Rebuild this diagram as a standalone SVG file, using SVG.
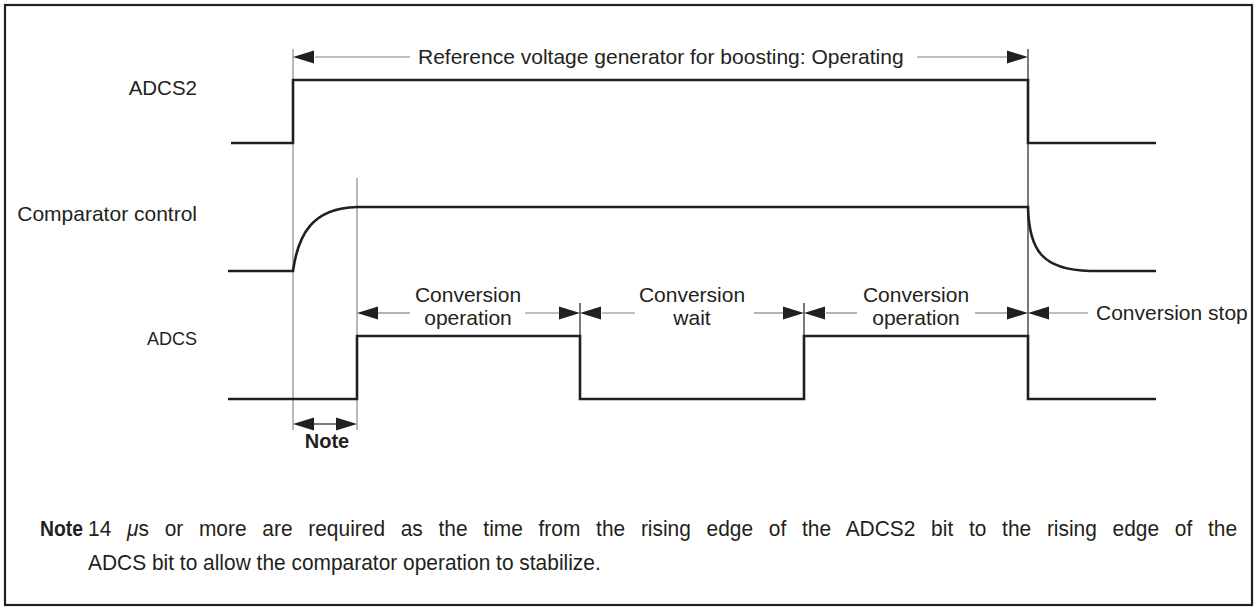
<svg xmlns="http://www.w3.org/2000/svg" width="1256" height="608" viewBox="0 0 1256 608">
<style>
text{font-family:"Liberation Sans",Arial,sans-serif;fill:#231f20}
.sig{fill:none;stroke:#231f20;stroke-width:2.6}
.guide{stroke:#8a8a8a;stroke-width:1.2}
.dim{stroke:#808080;stroke-width:1.2}
.tick{stroke:#231f20;stroke-width:1.2}
.ah{fill:#231f20}
.lbl{font-size:21px}
.mid{text-anchor:middle}
</style>
<defs>
<path id="ar" d="M0,0 L-21,-6.5 L-21,6.5 Z"/>
</defs>
<rect x="5" y="5" width="1247" height="600" fill="#fff" stroke="#231f20" stroke-width="2.2"/>
<g id="labels">
<text x="197" y="95" font-size="20.5" text-anchor="end">ADCS2</text>
<text x="197" y="221" font-size="21" text-anchor="end">Comparator control</text>
<text x="197" y="345" font-size="18" text-anchor="end">ADCS</text>
</g>
<g id="guides">
<line class="guide" x1="293" y1="49" x2="293" y2="430"/>
<line class="guide" x1="357" y1="178" x2="357" y2="430"/>
<line class="tick" x1="1028" y1="49" x2="1028" y2="400"/>
<line class="tick" x1="580" y1="303" x2="580" y2="336"/>
<line class="tick" x1="804" y1="303" x2="804" y2="336"/>
</g>
<g id="signal-ADCS2">
<path class="sig" d="M231,143 H293 V80 H1028 V143 H1156"/>
</g>
<g id="signal-comparator">
<path class="sig" d="M228,271 H293 C298,235 312,208 357,207 H1028 C1029,250 1042,270 1090,271 H1156"/>
</g>
<g id="signal-ADCS">
<path class="sig" d="M228,399 H357 V336 H580 V399 H804 V336 H1028 V399 H1156"/>
</g>
<g id="connectors">
<line class="dim" x1="315" y1="57" x2="410" y2="57"/>
<line class="dim" x1="917" y1="57" x2="1007" y2="57"/>
<use href="#ar" class="ah" transform="translate(293,57) rotate(180)"/>
<use href="#ar" class="ah" transform="translate(1028,57)"/>

<line class="dim" x1="378" y1="313" x2="410" y2="313"/>
<line class="dim" x1="525" y1="313" x2="560" y2="313"/>
<use href="#ar" class="ah" transform="translate(357,313) rotate(180)"/>
<use href="#ar" class="ah" transform="translate(580,313)"/>

<line class="dim" x1="602" y1="313" x2="635" y2="313"/>
<line class="dim" x1="754" y1="313" x2="783" y2="313"/>
<use href="#ar" class="ah" transform="translate(580,313) rotate(180)"/>
<use href="#ar" class="ah" transform="translate(804,313)"/>

<line class="dim" x1="826" y1="313" x2="857" y2="313"/>
<line class="dim" x1="975" y1="313" x2="1007" y2="313"/>
<use href="#ar" class="ah" transform="translate(804,313) rotate(180)"/>
<use href="#ar" class="ah" transform="translate(1028,313)"/>

<line class="dim" x1="1049" y1="313" x2="1088" y2="313"/>
<use href="#ar" class="ah" transform="translate(1028,313) rotate(180)"/>

<line class="tick" x1="314" y1="424" x2="336" y2="424"/>
<use href="#ar" class="ah" transform="translate(293,424) rotate(180)"/>
<use href="#ar" class="ah" transform="translate(357,424)"/>
</g>
<g id="dim-labels">
<text class="lbl" x="418" y="64">Reference voltage generator for boosting: Operating</text>
<text class="lbl mid" x="468" y="302">Conversion</text>
<text class="lbl mid" x="468" y="325">operation</text>
<text class="lbl mid" x="692" y="302">Conversion</text>
<text class="lbl mid" x="692" y="325">wait</text>
<text class="lbl mid" x="916" y="302">Conversion</text>
<text class="lbl mid" x="916" y="325">operation</text>
<text class="lbl" x="1096" y="320">Conversion stop</text>
<text x="327" y="448" font-size="20" font-weight="bold" text-anchor="middle">Note</text>
</g>
<g id="note">
<text transform="translate(40,0) scale(0.88,1)" x="0" y="536" font-size="22" font-weight="bold">Note</text>
<text transform="translate(88,0) scale(0.93,1)" x="0" y="536" font-size="22.5" word-spacing="10.65">14 <tspan font-style="italic">μ</tspan>s or more are required as the time from the rising edge of the ADCS2 bit to the rising edge of the</text>
<text transform="translate(88,0) scale(0.93,1)" x="0" y="570" font-size="22.5">ADCS bit to allow the comparator operation to stabilize.</text>
</g>
</svg>
